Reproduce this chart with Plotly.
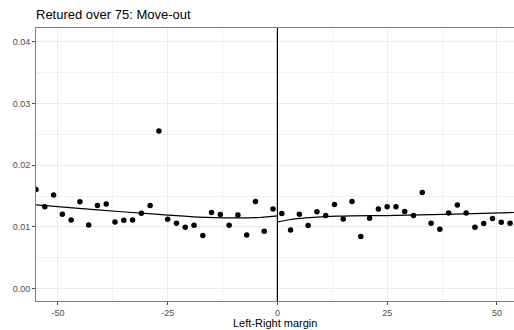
import plotly.graph_objects as go

title = "Retured over 75: Move-out"
x_label = "Left-Right margin"

left_x = [-55, -53, -51, -49, -47, -45, -43, -41, -39, -37, -35, -33, -31, -29,
          -27, -25, -23, -21, -19, -17, -15, -13, -11, -9, -7, -5, -3, -1]
left_y = [0.01606, 0.01324, 0.01518, 0.01205, 0.01113, 0.01405, 0.01032, 0.01347,
          0.01372, 0.01080, 0.01108, 0.01113, 0.01222, 0.01347, 0.02552, 0.01124,
          0.01059, 0.00994, 0.01027, 0.00860, 0.01233, 0.01200, 0.01027, 0.01194,
          0.00870, 0.01411, 0.00930, 0.01291]
right_x = [1, 3, 5, 7, 9, 11, 13, 15, 17, 19, 21, 23, 25, 27, 29, 31, 33, 35,
           37, 39, 41, 43, 45, 47, 49, 51, 53]
right_y = [0.01217, 0.00951, 0.01205, 0.01022, 0.01243, 0.01184, 0.01363, 0.01129,
           0.01411, 0.00844, 0.01141, 0.01291, 0.01324, 0.01324, 0.01249, 0.01184,
           0.01557, 0.01059, 0.00962, 0.01226, 0.01356, 0.01226, 0.00994, 0.01055,
           0.01136, 0.01076, 0.01059]

# fitted smooth curves
fit_left_x = [-55, -41, -27, -18, -10, -4, 0]
fit_left_y = [0.01356, 0.01275, 0.01202, 0.01157, 0.01145, 0.01152, 0.01178]
fit_right_x = [0, 3, 6.5, 13.5, 27, 40.5, 54]
fit_right_y = [0.01080, 0.01120, 0.01145, 0.01173, 0.01186, 0.01205, 0.01233]

x_ticks = [-50, -25, 0, 25, 50]
x_tick_text = ["-50", "-25", "0", "25", "50"]
y_ticks = [0.00, 0.01, 0.02, 0.03, 0.04]
y_tick_text = ["0.00", "0.01", "0.02", "0.03", "0.04"]

fig = go.Figure()

for fx, fy in [(fit_left_x, fit_left_y), (fit_right_x, fit_right_y)]:
    fig.add_trace(go.Scatter(x=fx, y=fy, mode="lines",
                             line=dict(color="black", width=1.2, shape="spline",
                                       smoothing=1.0),
                             hoverinfo="skip", showlegend=False))

fig.add_trace(go.Scatter(x=left_x + right_x, y=left_y + right_y, mode="markers",
                         marker=dict(color="black", size=5.5),
                         showlegend=False))

fig.add_shape(type="line", x0=0, x1=0, y0=0, y1=1, yref="paper",
              line=dict(color="black", width=1.2))

fig.add_annotation(text=x_label, x=0.5, xref="paper", y=0, yref="paper",
                   yanchor="top", yshift=-14, showarrow=False,
                   font=dict(size=11, color="black"))

fig.update_layout(
    width=514, height=330,
    margin=dict(l=36, r=0, t=28, b=29),
    paper_bgcolor="white", plot_bgcolor="white",
    font=dict(family="Liberation Sans, Arial, sans-serif", color="#4d4d4d", size=9),
    title=dict(text=title, x=0, xref="paper", xanchor="left", y=1, yref="container",
               yanchor="top", pad=dict(t=10, l=0),
               font=dict(size=13, color="black")),
    xaxis=dict(range=[-55, 53.9], tickvals=x_ticks, ticktext=x_tick_text,
               showgrid=True, automargin=False,
               gridcolor="#ebebeb", gridwidth=1, zeroline=False,
               minor=dict(dtick=12.5, tick0=0, showgrid=True, gridcolor="#f2f2f2",
                          gridwidth=0.5),
               showline=True, linecolor="#7f7f7f", linewidth=1, mirror=True,
               ticks="outside", ticklen=3, tickcolor="#4d4d4d"),
    yaxis=dict(range=[-0.002, 0.0422], tickvals=y_ticks, ticktext=y_tick_text,
               showgrid=True, automargin=False,
               gridcolor="#ebebeb", gridwidth=1, zeroline=False,
               minor=dict(dtick=0.005, tick0=0, showgrid=True, gridcolor="#f2f2f2",
                          gridwidth=0.5),
               showline=True, linecolor="#7f7f7f", linewidth=1,
               ticks="outside", ticklen=3, tickcolor="#4d4d4d"),
)

fig.write_html("out.html", config={"displayModeBar": False},
               post_script="document.body.style.margin='0';document.body.style.padding='0';")
